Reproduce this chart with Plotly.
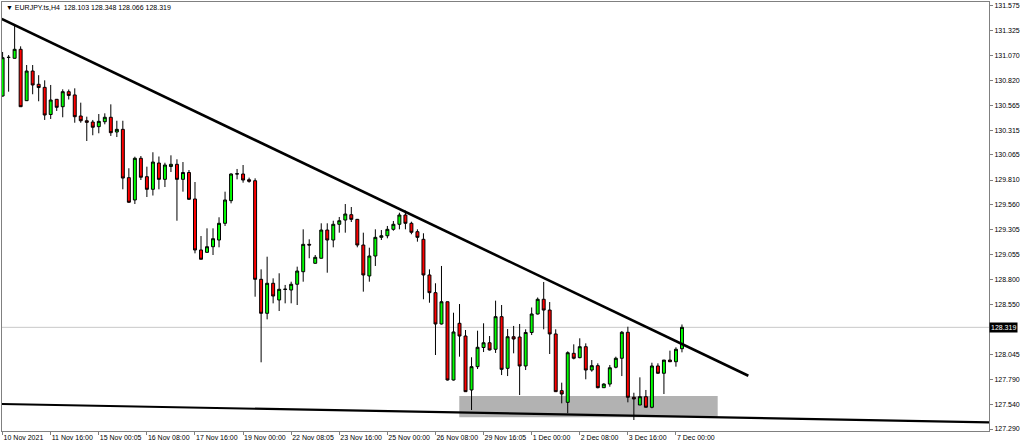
import plotly.graph_objects as go

# ---- data (EURJPY H4) ----
opens = [130.660, 131.050, 131.042, 131.133, 130.613, 130.913, 130.779, 130.748, 130.473, 130.627,
         130.552, 130.704, 130.671, 130.458, 130.410, 130.397, 130.350, 130.400, 130.445, 130.296,
         130.323, 129.834, 129.608, 130.030, 129.844, 129.716, 129.982, 129.817, 129.947, 129.969,
         129.817, 129.886, 129.618, 129.102, 129.078, 129.135, 129.203, 129.372, 129.601, 129.871,
         129.871, 129.813, 129.803, 128.805, 128.461, 128.765, 128.596, 128.702, 128.697, 128.755,
         128.882, 129.159, 128.967, 129.018, 129.304, 129.203, 129.362, 129.405, 129.459, 129.412,
         129.152, 128.839, 129.041, 129.230, 129.246, 129.311, 129.362, 129.456, 129.372, 129.287,
         129.210, 128.849, 128.670, 128.353, 128.578, 127.786, 128.360, 128.231, 127.685, 127.921,
         128.115, 128.163, 128.097, 128.427, 127.904, 128.224, 128.221, 127.928, 128.267, 128.454,
         128.603, 128.494, 128.252, 127.678, 127.560, 128.056, 128.012, 128.123, 127.887, 127.931,
         127.708, 127.745, 127.915, 128.006, 128.269, 127.611, 127.533, 127.617, 127.510, 127.928,
         127.854, 127.988, 127.971, 128.103]
highs = [131.106, 131.075, 131.369, 131.163, 130.974, 130.974, 130.871, 130.819, 130.772, 130.630,
         130.728, 130.726, 130.738, 130.593, 130.451, 130.418, 130.478, 130.485, 130.576, 130.410,
         130.410, 129.929, 130.046, 130.053, 129.945, 130.091, 130.048, 129.985, 130.060, 130.020,
         129.992, 129.911, 129.790, 129.243, 129.321, 129.321, 129.433, 129.692, 129.878, 129.922,
         129.962, 129.834, 129.827, 128.906, 129.034, 128.815, 128.866, 128.748, 128.781, 128.933,
         129.311, 129.210, 129.051, 129.372, 129.372, 129.398, 129.436, 129.567, 129.537, 129.416,
         129.277, 129.125, 129.311, 129.304, 129.345, 129.395, 129.479, 129.500, 129.388, 129.311,
         129.271, 128.906, 128.765, 128.940, 128.580, 128.467, 128.555, 128.292, 128.016, 128.285,
         128.360, 128.231, 128.589, 128.545, 128.302, 128.333, 128.353, 128.299, 128.520, 128.621,
         128.778, 128.575, 128.299, 127.759, 128.076, 128.147, 128.208, 128.157, 127.988, 127.955,
         127.753, 127.938, 128.022, 128.282, 128.325, 127.657, 127.813, 127.685, 127.961, 127.955,
         127.971, 128.083, 128.117, 128.348]
lows = [130.655, 130.704, 131.040, 130.549, 130.610, 130.678, 130.607, 130.418, 130.428, 130.509,
        130.445, 130.625, 130.390, 130.390, 130.205, 130.263, 130.283, 130.374, 130.256, 130.245,
        129.716, 129.578, 129.567, 129.810, 129.638, 129.653, 129.716, 129.739, 129.891, 129.398,
        129.692, 129.608, 129.068, 129.006, 129.076, 129.051, 129.129, 129.345, 129.574, 129.817,
        129.783, 129.783, 128.629, 127.965, 128.400, 128.562, 128.484, 128.562, 128.562, 128.545,
        128.781, 129.018, 128.965, 129.016, 128.872, 129.129, 129.277, 129.277, 129.385, 129.129,
        128.680, 128.781, 128.940, 129.203, 129.220, 129.297, 129.311, 129.311, 129.261, 129.186,
        128.603, 128.568, 128.039, 128.348, 127.781, 127.781, 128.022, 127.665, 127.482, 127.897,
        128.069, 128.085, 128.060, 127.836, 127.826, 128.056, 127.634, 127.887, 128.241, 128.449,
        128.299, 128.049, 127.665, 127.550, 127.449, 127.995, 128.006, 127.793, 127.870, 127.702,
        127.705, 127.718, 127.904, 127.826, 127.560, 127.381, 127.533, 127.508, 127.500, 127.847,
        127.644, 127.968, 127.921, 128.066]
closes = [131.048, 131.052, 131.133, 130.552, 130.913, 130.772, 130.746, 130.468, 130.620, 130.546,
          130.704, 130.666, 130.451, 130.410, 130.394, 130.344, 130.404, 130.445, 130.289, 130.323,
          129.830, 129.585, 130.030, 129.838, 129.716, 129.992, 129.817, 129.962, 129.969, 129.817,
          129.886, 129.615, 129.102, 129.008, 129.135, 129.216, 129.372, 129.608, 129.871, 129.873,
          129.810, 129.797, 128.805, 128.461, 128.765, 128.636, 128.704, 128.705, 128.755, 128.889,
          129.159, 129.152, 129.028, 129.304, 129.203, 129.362, 129.398, 129.466, 129.412, 129.152,
          128.849, 129.041, 129.230, 129.246, 129.311, 129.362, 129.456, 129.372, 129.281, 129.230,
          128.849, 128.670, 128.353, 128.578, 127.786, 128.272, 128.231, 127.668, 127.921, 128.117,
          128.163, 128.090, 128.427, 127.894, 128.224, 128.201, 127.928, 128.267, 128.454, 128.603,
          128.494, 128.252, 127.668, 127.644, 128.062, 128.006, 128.123, 127.887, 127.931, 127.708,
          127.745, 127.910, 128.006, 128.269, 127.611, 127.594, 127.617, 127.510, 127.928, 127.854,
          127.988, 127.971, 128.097, 128.319]
bar_index = list(range(len(opens)))

x_tick_index = [0, 8, 16, 24, 32, 40, 48, 56, 64, 72, 80, 88, 96, 104, 112]
x_tick_labels = ["10 Nov 2021", "11 Nov 16:00", "15 Nov 00:05", "16 Nov 08:00", "17 Nov 16:00",
                 "19 Nov 00:00", "22 Nov 08:05", "23 Nov 16:00", "25 Nov 00:00", "26 Nov 08:00",
                 "29 Nov 16:05", "1 Dec 00:00", "2 Dec 08:00", "3 Dec 16:00", "7 Dec 00:00"]
y_tick_values = [131.575, 131.325, 131.070, 130.820, 130.565, 130.315, 130.065, 129.810, 129.560,
                 129.305, 129.055, 128.800, 128.550, 128.045, 127.790, 127.540, 127.290]

last_price = 128.319
header = "▼ EURJPY.ts,H4  128.103 128.348 128.066 128.319"

# drawn objects
upper_trend_x = [-0.15, 124.04]
upper_trend_y = [131.440, 127.829]
lower_trend_x = [-0.15, 164.2]
lower_trend_y = [127.543, 127.357]
zone_x = [75.96, 118.94]
zone_y = [127.408, 127.624]

x_range = [-0.1, 164.07]
y_range = [127.2698, 131.6118]

FONT = "Liberation Sans, Arial, sans-serif"

fig = go.Figure()
fig.add_trace(go.Scatter(x=upper_trend_x, y=upper_trend_y, mode="lines",
                         line=dict(color="black", width=2.6), hoverinfo="skip", showlegend=False))
fig.add_trace(go.Scatter(x=lower_trend_x, y=lower_trend_y, mode="lines",
                         line=dict(color="black", width=2.2), hoverinfo="skip", showlegend=False))
fig.add_trace(go.Candlestick(
    x=bar_index, open=opens, high=highs, low=lows, close=closes,
    increasing=dict(line=dict(color="black", width=1), fillcolor="#00ff00"),
    decreasing=dict(line=dict(color="black", width=1), fillcolor="#ff0000"),
    whiskerwidth=0, showlegend=False))

fig.add_shape(type="rect", xref="x", yref="y", x0=zone_x[0], x1=zone_x[1], y0=zone_y[0], y1=zone_y[1],
              fillcolor="#b2b2b2", line=dict(width=0), layer="below")
fig.add_shape(type="line", xref="paper", yref="y", x0=0, x1=1, y0=last_price, y1=last_price,
              line=dict(color="#c8c8c8", width=1), layer="below")

fig.add_annotation(xref="paper", yref="y", x=1, y=last_price, xanchor="left", yanchor="middle",
                   text="128.319", showarrow=False, bgcolor="black", borderpad=1,
                   font=dict(family=FONT, size=7, color="white"))
fig.add_annotation(xref="paper", yref="paper", x=0.002, y=0.987, xanchor="left", yanchor="middle",
                   text=header, showarrow=False, font=dict(family=FONT, size=7, color="black"))

fig.update_layout(
    width=1024, height=447,
    margin=dict(l=2, r=35, t=2, b=16, autoexpand=False),
    paper_bgcolor="white", plot_bgcolor="white",
    showlegend=False,
    font=dict(family=FONT, size=7, color="black"),
    xaxis=dict(range=x_range, rangeslider=dict(visible=False), showgrid=False, zeroline=False,
               tickmode="array", tickvals=x_tick_index, ticktext=x_tick_labels,
               ticks="outside", ticklen=3, tickcolor="#808080", tickangle=0, automargin=False,
               ticklabelposition="outside right",
               showline=True, linecolor="#808080", linewidth=1, mirror=True,
               tickfont=dict(family=FONT, size=7, color="black")),
    yaxis=dict(range=y_range, side="right", showgrid=False, zeroline=False, automargin=False,
               tickmode="array", tickvals=y_tick_values,
               ticktext=[f"{v:.3f}" for v in y_tick_values],
               ticks="outside", ticklen=3, tickcolor="#808080",
               showline=True, linecolor="#808080", linewidth=1, mirror=True,
               tickfont=dict(family=FONT, size=7, color="black")),
)

fig.write_html("out.html", config={"displayModeBar": False},
               post_script="document.body.style.margin='0';document.body.style.overflow='hidden';")
